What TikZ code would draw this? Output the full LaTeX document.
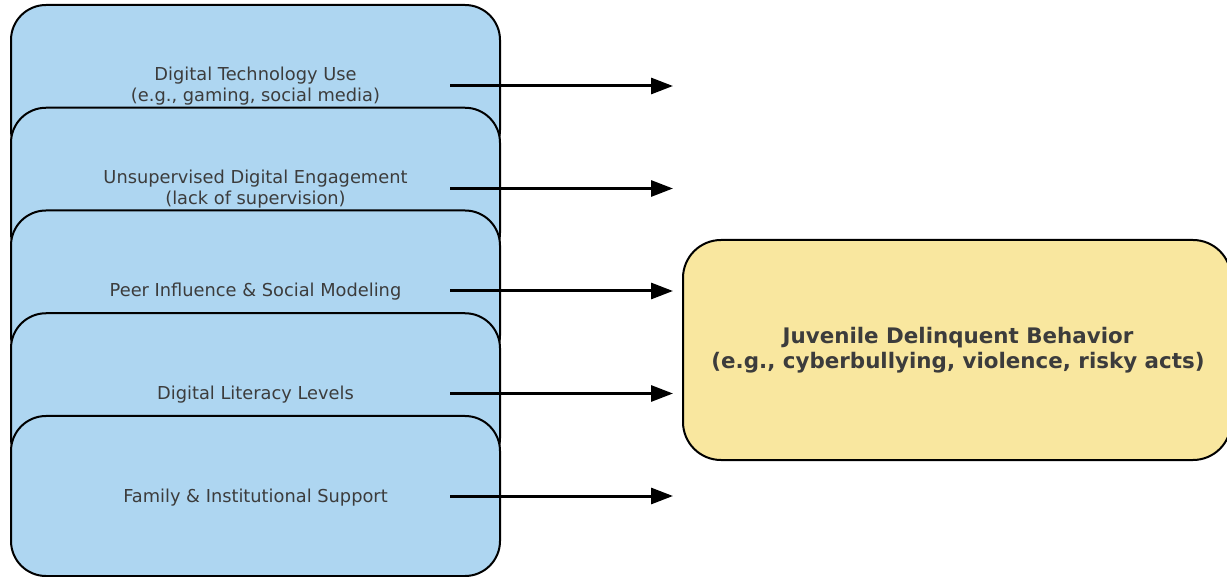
\documentclass[tikz,border=0pt]{standalone}
\usepackage{fontspec}
\setmainfont{DejaVu Sans}
\usetikzlibrary{arrows.meta}
\definecolor{factorblue}{HTML}{AED6F1}
\definecolor{outcomeyellow}{HTML}{F9E79F}
\definecolor{labelgray}{HTML}{3C3C3C}
\tikzset{
  factor/.style={draw=black, line width=2pt, fill=factorblue, rounded corners=35pt,
    minimum width=489pt, minimum height=160pt, inner sep=0pt},
  factorlabel/.style={text=labelgray, font=\fontsize{17.8}{21}\selectfont, align=center, inner sep=0pt},
  outcome/.style={draw=black, line width=2pt, fill=outcomeyellow, rounded corners=38pt,
    minimum width=548pt, minimum height=220pt, inner sep=0pt},
  outcomelabel/.style={text=labelgray, font=\bfseries\fontsize{21.4}{25}\selectfont, align=center, inner sep=0pt},
  link/.style={line width=3pt, -{Triangle[length=22pt,width=16pt]}}
}
\begin{document}
\begin{tikzpicture}[x=1pt,y=-1pt]
\useasboundingbox (0,0) rectangle (1227,577);
% stacked factor boxes, each later one drawn over the previous
\node[factor] (b1) at (255.5,85) {};
\node[factorlabel] (t1) at (255.5,86.5) {Digital Technology Use\\(e.g., gaming, social media)};
\node[factor] (b2) at (255.5,187.75) {};
\node[factorlabel] (t2) at (255.5,189.25) {Unsupervised Digital Engagement\\(lack of supervision)};
\node[factor] (b3) at (255.5,290.5) {};
\node[factorlabel] (t3) at (255.5,292) {Peer Influence \& Social Modeling};
\node[factor] (b4) at (255.5,393.25) {};
\node[factorlabel] (t4) at (255.5,394.75) {Digital Literacy Levels};
\node[factor] (b5) at (255.5,496) {};
\node[factorlabel] (t5) at (255.5,497.5) {Family \& Institutional Support};
% outcome box
\node[outcome] (out) at (957,350) {};
\node[outcomelabel] (outt) at (958,350.5) {Juvenile Delinquent Behavior\\(e.g., cyberbullying, violence, risky acts)};
% arrows
\foreach \i/\y in {1/86,2/188.5,3/291,4/393.5,5/496}{
  \coordinate (s\i) at (450,\y);
  \coordinate (e\i) at (673,\y);
  \draw[link] (s\i) -- (e\i);
}
\end{tikzpicture}
\end{document}
